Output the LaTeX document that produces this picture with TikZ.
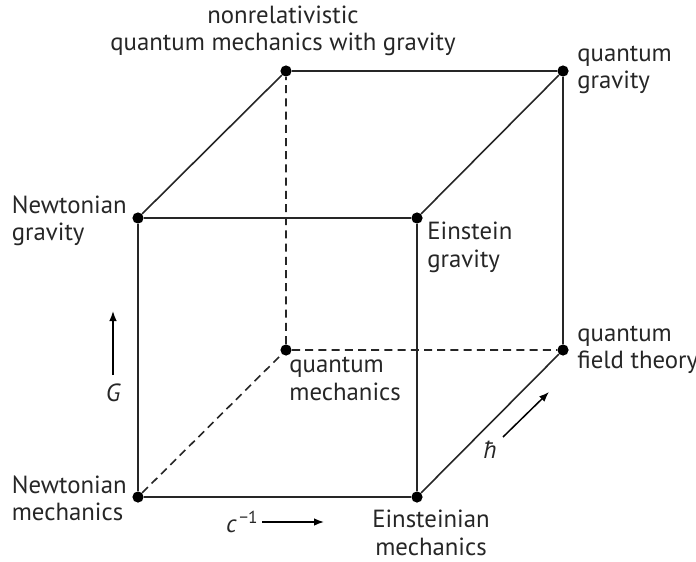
\documentclass[tikz,border=0pt]{standalone}
\usepackage{fontspec}
\setmainfont{PT Sans}
\usetikzlibrary{arrows.meta,calc,positioning}
\begin{document}
\begin{tikzpicture}[x=0.5pt,y=-0.5pt,
 every node/.style={font=\fontsize{12.4}{13.6}\selectfont,text=black!85},
 dot/.style={circle,fill,inner sep=0pt,minimum size=5.6pt},
 edge/.style={line width=0.8pt,draw=black!85},
 hidden/.style={edge,dash pattern=on 4pt off 2.6pt},
 lbl/.style={align=left,inner sep=0pt},
 arr/.style={line width=0.75pt,-{Latex[length=5pt,width=3.8pt]}}]
\useasboundingbox (0,0) rectangle (696,562);
% corners of the cube
\foreach \name/\x/\y in {nm/138/497,em/417/497,ng/138/218,eg/417/218,
 qm/286/350,qft/563/350,nqg/286/71,qg/563/71}
 {\node[dot] (\name) at (\x,\y) {};}
% hidden edges first
\draw[hidden] (nm)--(qm) (qm)--(qft) (qm)--(nqg);
\draw[edge] (nm)--(em)--(eg)--(ng)--(nm);
\draw[edge] (ng)--(nqg)--(qg)--(eg);
\draw[edge] (qg)--(qft)--(em);
% labels
\node[lbl,anchor=east] (lnm) at (127,498) {Newtonian\\mechanics};
\node[lbl,anchor=east] (lng) at (127,221) {Newtonian\\gravity};
\node[lbl,anchor=north west] (leg) at (427,222) {Einstein\\gravity};
\node[lbl,align=center,anchor=north] (lem) at (431,510) {Einsteinian\\mechanics};
\node[lbl,anchor=north west] (lqm) at (289,357) {quantum\\mechanics};
\node[lbl,anchor=west] (lqft) at (577,350) {quantum\\field theory};
\node[lbl,anchor=west] (lqg) at (577,70) {quantum\\gravity};
\node[lbl,align=center,anchor=south] (lnqg) at (283,56) {nonrelativistic\\quantum mechanics with gravity};
% directions
\node (G) at (113,393) {\itshape G};
\coordinate (Gtail) at (113,375);
\coordinate (Ghead) at (113,311);
\draw[arr] (Gtail)--(Ghead);
\node[anchor=east,inner sep=0pt] (cinv) at (259,522) {{\itshape c}\textsuperscript{\,−1}};
\coordinate (ctail) at (262,522);
\coordinate (chead) at (324,522);
\draw[arr] (ctail)--(chead);
\node (hb) at (490,450) {\itshape ħ};
\coordinate (htail) at (503,437);
\coordinate (hhead) at (549,392);
\draw[arr] (htail)--(hhead);
\end{tikzpicture}
\end{document}
